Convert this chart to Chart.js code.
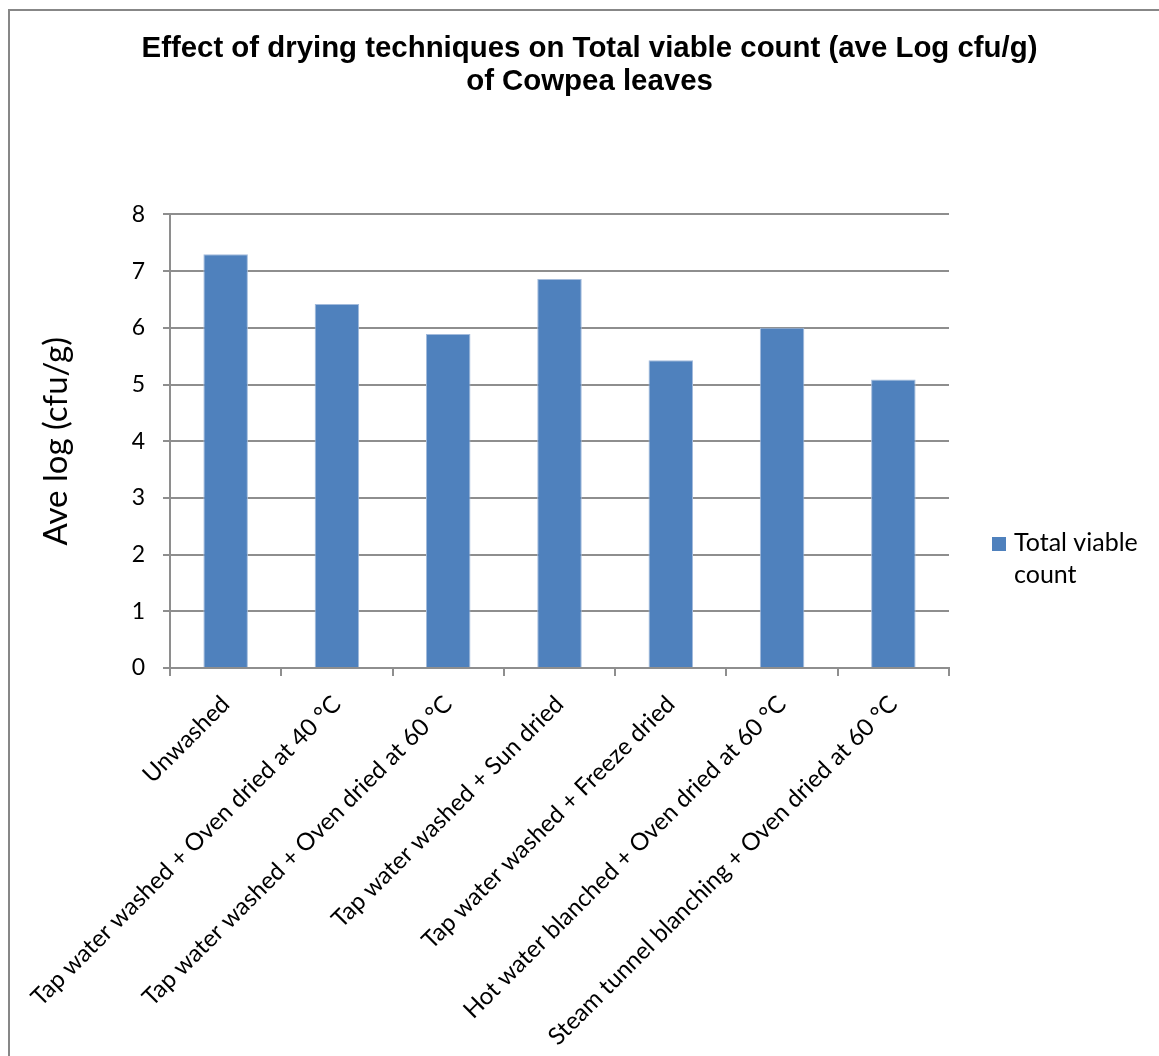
<!DOCTYPE html>
<html>
<head>
<meta charset="utf-8">
<title>Effect of drying techniques on Total viable count of Cowpea leaves</title>
<script src="https://cdn.jsdelivr.net/npm/chart.js@4.4.1/dist/chart.umd.min.js"></script>
<style>
  html, body { margin: 0; padding: 0; background: #ffffff; }
  #wrap { width: 1159px; height: 1056px; }
</style>
</head>
<body>
<div id="wrap"><canvas id="chart" width="1159" height="1056"></canvas></div>
<script>
// Treatments (x categories)
const categories = [
  'Unwashed',
  'Tap water washed + Oven dried at 40 °C',
  'Tap water washed + Oven dried at 60 °C',
  'Tap water washed + Sun dried',
  'Tap water washed + Freeze dried',
  'Hot water blanched + Oven dried at 60 °C',
  'Steam tunnel blanching + Oven dried at 60 °C'
];

// Average log cfu/g per treatment
const totalViableCount = [7.30, 6.42, 5.89, 6.86, 5.43, 6.00, 5.09];

const seriesName = 'Total viable count';
const yTicks = [0, 1, 2, 3, 4, 5, 6, 7, 8];
const titleLines = [
  'Effect of drying techniques on Total viable count (ave Log cfu/g)',
  'of Cowpea leaves'
];
const yAxisTitle = 'Ave log (cfu/g)';

const BAR = '#4F81BD';
const GRID = '#8e8e8e';
const LABEL_FONT = 'Lato, "Open Sans", sans-serif';

// Outer frame of the chart object
const framePlugin = {
  id: 'frame',
  beforeDraw(chart) {
    const ctx = chart.ctx;
    ctx.save();
    ctx.fillStyle = '#ffffff';
    ctx.fillRect(0, 0, chart.width, chart.height);
    ctx.strokeStyle = '#878787';
    ctx.lineWidth = 2;
    ctx.strokeRect(9, 10, chart.width + 20, chart.height + 20);
    ctx.restore();
  }
};

// Legend on the right, with the series name wrapped onto two lines
const sideLegend = {
  id: 'sideLegend',
  afterDraw(chart) {
    const ctx = chart.ctx;
    const ds = chart.data.datasets[0];
    const area = chart.chartArea;
    const boxX = area.right + 43, boxY = 537, box = 14;
    const textX = boxX + box + 8;
    const lineGap = 32;
    ctx.save();
    ctx.fillStyle = ds.backgroundColor;
    ctx.fillRect(boxX, boxY, box, box);
    ctx.font = '25px ' + LABEL_FONT;
    ctx.fillStyle = '#000000';
    ctx.textBaseline = 'alphabetic';
    ctx.textAlign = 'left';
    // simple word wrap
    const maxW = chart.width - textX - 8;
    const words = ds.label.split(' ');
    const lines = [];
    let cur = '';
    words.forEach(w => {
      const test = cur ? cur + ' ' + w : w;
      if (ctx.measureText(test).width > maxW && cur) { lines.push(cur); cur = w; }
      else cur = test;
    });
    if (cur) lines.push(cur);
    lines.forEach((ln, i) => ctx.fillText(ln, textX, boxY + 14 + i * lineGap));
    ctx.restore();
  }
};

new Chart(document.getElementById('chart'), {
  type: 'bar',
  data: {
    labels: categories,
    datasets: [{
      label: seriesName,
      data: totalViableCount,
      backgroundColor: BAR,
      borderColor: '#a3bbdc',
      borderWidth: 1,
      barPercentage: 0.4,
      categoryPercentage: 1.0
    }]
  },
  options: {
    responsive: false,
    animation: false,
    devicePixelRatio: 1,
    layout: { padding: { left: 20, right: 0, top: 0, bottom: 0 } },
    plugins: {
      legend: { display: false },
      tooltip: { enabled: false },
      title: {
        display: true,
        text: titleLines,
        color: '#000000',
        font: { family: '"Liberation Sans", Arial, sans-serif', size: 29.4, weight: 'bold', lineHeight: 1.13 },
        padding: { top: 32, bottom: 116 }
      }
    },
    scales: {
      x: {
        grid: {
          display: true,
          drawOnChartArea: false,
          drawTicks: true,
          tickLength: 8,
          offset: true,
          color: GRID,
          lineWidth: 2
        },
        border: { display: true, color: GRID, width: 2 },
        ticks: {
          autoSkip: false,
          minRotation: 45,
          maxRotation: 45,
          padding: 14,
          color: '#000000',
          font: { family: LABEL_FONT, size: 24 }
        },
        afterFit(scale) { scale.height = 388; }
      },
      y: {
        min: 0,
        max: 8,
        afterBuildTicks(scale) { scale.ticks = yTicks.map(v => ({ value: v })); },
        grid: {
          color: GRID,
          lineWidth: 2,
          drawTicks: true,
          tickLength: 7
        },
        border: { display: true, color: GRID, width: 2 },
        ticks: {
          padding: 18,
          color: '#000000',
          font: { family: LABEL_FONT, size: 23 }
        },
        title: {
          display: true,
          text: yAxisTitle,
          color: '#000000',
          font: { family: LABEL_FONT, size: 33 },
          padding: { top: 17, bottom: 0 }
        },
        afterFit(scale) { scale.width = 150; }
      },
      // empty right-hand band that reserves room for the legend
      legendSpace: {
        type: 'linear',
        position: 'right',
        display: true,
        grid: { display: false, drawTicks: false },
        border: { display: false },
        ticks: { display: false },
        afterFit(scale) { scale.width = 210; }
      }
    }
  },
  plugins: [framePlugin, sideLegend]
});
</script>
</body>
</html>
